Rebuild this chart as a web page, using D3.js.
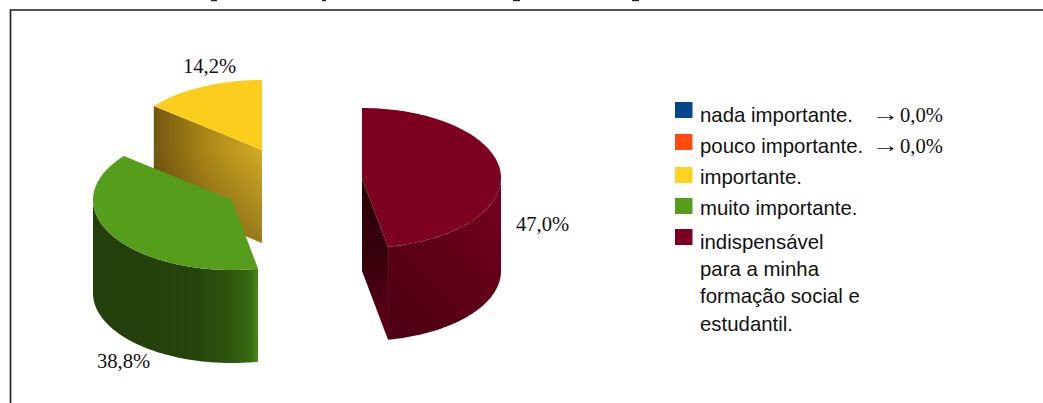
<!DOCTYPE html>
<html><head><meta charset="utf-8">
<script src="https://cdn.jsdelivr.net/npm/d3@7/dist/d3.min.js"></script>
<style>html,body{margin:0;padding:0;background:#fff;overflow:hidden}svg{display:block}</style>
</head><body><svg id="c" width="1043" height="403"></svg>
<script>
// ---- data ----
const categories = ["indispensável", "muito importante.", "importante.", "nada importante.", "pouco importante."];
const values = [47.0, 38.8, 14.2, 0.0, 0.0];
const valueLabels = ["47,0%", "38,8%", "14,2%"];
const legendOrder = [
  ["nada importante."],
  ["pouco importante."],
  ["importante."],
  ["muito importante."],
  ["indispensável", "para a minha", "formação social e", "estudantil."]
];
const legendNotes = ["0,0%", "0,0%", "", "", ""];
const legendColors = ["#03468C", "#FF4A12", "#FFD320", "#579D1C", "#7E0021"];

// ---- layout and style ----
const W = 1043, H = 403, RX = 139, RY = 70, DEPTH = 93;
const centres = [[362, 178], [232, 200], [262, 150]];
const topColors = ["#7E0021", "#579D1C", "#FBCE1E"];
const wallStyle = [
  { y1: 340, y2: 225, stops: [[0, "#4c0012"], [0.35, "#560016"], [0.7, "#630019"], [1, "#70001e"]] },
  { y1: 0, y2: 0, stops: [[0, "#233f0a"], [0.6, "#25430b"], [0.82, "#2d540d"], [0.95, "#386a10"], [1, "#4c8a16"]] },
  null
];
const faceStyle = [
  { y1: 190, y2: 310, stops: [[0, "#2b0008"], [0.6, "#39000c"], [1, "#560016"]] },
  null,
  { y1: 0, y2: 0, stops: [[0, "#73570f"], [0.5, "#ad8817"], [1, "#d3ab26"]] }
];
const labelPos = [[516, 231], [97, 368], [183, 73]];
const legendRows = [102, 134, 167, 198, 229];
const legendBase = [121.7, 152.7, 184, 215.3, 249];

const svg = d3.select("#c");
const defs = svg.append("defs");

const pie = d3.pie().sort(null).value(d => d).startAngle(0).endAngle(2 * Math.PI);
const arcs = pie(values);

const sx = d3.scaleLinear().domain([-1, 1]).range([-RX, RX]);
const sy = d3.scaleLinear().domain([-1, 1]).range([-RY, RY]);
const rim = (c, a, dz = 0) => [c[0] + sx(Math.sin(a)), c[1] + sy(-Math.cos(a)) + dz];
const line = d3.line();
const sweep = (c, a0, a1, dz = 0) => {
  const n = Math.max(2, Math.ceil((a1 - a0) / 0.02));
  return d3.range(n + 1).map(i => rim(c, a0 + (a1 - a0) * i / n, dz));
};

// frame: only top and left edges are in the crop
svg.append("rect").attr("x", 0).attr("y", 0).attr("width", W).attr("height", H).attr("fill", "#fff");
svg.append("path").attr("d", `M${W},10H10.5V${H}`).attr("fill", "none").attr("stroke", "#1a1a1a").attr("stroke-width", 1.6);

// clipped descenders of the cut-off heading
[[211, 6], [322, 4], [513, 7], [632, 7]].forEach(d =>
  svg.append("rect").attr("x", d[0]).attr("y", 0).attr("width", d[1]).attr("height", 1.2).attr("fill", "#222"));

function gradient(id, style, x1, x2) {
  const g = defs.append("linearGradient").attr("id", id)
    .attr("gradientUnits", "userSpaceOnUse").attr("x1", x1).attr("x2", x2).attr("y1", style.y1).attr("y2", style.y2);
  style.stops.forEach(s => g.append("stop").attr("offset", s[0]).attr("stop-color", s[1]).attr("stop-opacity", s[2] === undefined ? 1 : s[2]));
  return `url(#${id})`;
}

// draw back to front: yellow, green, burgundy
[2, 1, 0].forEach(i => {
  const a = arcs[i], c = centres[i];
  const g = svg.append("g");
  const a0 = a.startAngle, a1 = a.endAngle;

  // cut faces turned towards the viewer
  [[a0, -Math.sin(a0)], [a1, Math.sin(a1)]].forEach(([ang, facing]) => {
    if (facing <= 0.01 || !faceStyle[i]) return;
    const p = rim(c, ang);
    const pts = [c, p, [p[0], p[1] + DEPTH], [c[0], c[1] + DEPTH]];
    const xs = [Math.min(c[0], p[0]), Math.max(c[0], p[0])];
    const d = line(pts) + "Z";
    g.append("path").attr("d", d).attr("fill", gradient("face" + i, faceStyle[i], xs[0], xs[1]));
    if (i === 2) {
      // the yellow face darkens towards its lower edge
      g.append("path").attr("d", d).attr("fill", gradient("shade" + i,
        { y1: 150, y2: 243, stops: [[0, "#000", 0], [1, "#000", 0.28]] }, 0, 0));
    }
  });

  // outer wall, front half only
  const w0 = Math.max(a0, Math.PI / 2), w1 = Math.min(a1, 3 * Math.PI / 2);
  if (w1 > w0 && wallStyle[i]) {
    const top = sweep(c, w0, w1), bot = sweep(c, w0, w1, DEPTH).reverse();
    const xs = d3.extent(top, d => d[0]);
    g.append("path").attr("d", line(top.concat(bot)) + "Z")
      .attr("fill", gradient("wall" + i, wallStyle[i], xs[0], xs[1]));
  }

  // top face
  g.append("path").attr("d", line([c].concat(sweep(c, a0, a1))) + "Z").attr("fill", topColors[i]);
});

// value labels
valueLabels.forEach((t, i) =>
  svg.append("text").attr("x", labelPos[i][0]).attr("y", labelPos[i][1])
    .attr("font-family", "'Liberation Serif'").attr("font-size", 20.6).attr("fill", "#111").text(t));

// legend
legendOrder.forEach((lines, i) => {
  const y = legendRows[i], b = legendBase[i];
  svg.append("rect").attr("x", 675).attr("y", y).attr("width", 17.5).attr("height", 16).attr("fill", legendColors[i]);
  lines.forEach((l, j) =>
    svg.append("text").attr("x", 700).attr("y", b + j * 27.2)
      .attr("font-family", "'Liberation Sans'").attr("font-size", 20.4).attr("fill", "#111").text(l));
  if (legendNotes[i]) {
    svg.append("text").attr("x", 871.5).attr("y", b - 1)
      .attr("font-family", "'Liberation Serif'").attr("font-size", 20).attr("fill", "#111")
      .attr("textLength", 28).attr("lengthAdjust", "spacingAndGlyphs").text("→");
    svg.append("text").attr("x", 900).attr("y", b + 0.5)
      .attr("font-family", "'Liberation Serif'").attr("font-size", 20.6).attr("fill", "#111").text(legendNotes[i]);
  }
});
</script></body></html>
